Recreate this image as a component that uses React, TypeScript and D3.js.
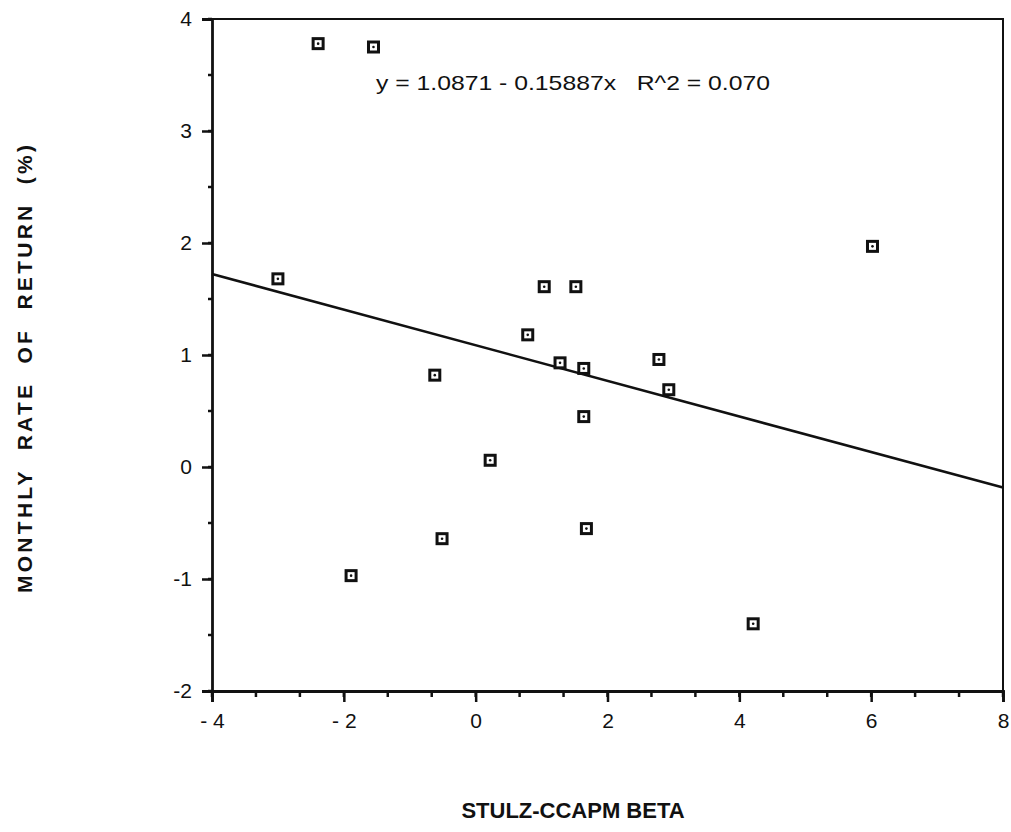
import { useRef, useEffect } from "react";
import * as d3 from "d3";

// Stulz-CCAPM beta vs monthly rate of return (%)
const betas = [
  -2.39, -1.55, -3.0, 1.04, 1.52, 6.02, 0.79, -0.62, 1.28, 1.64, 2.78, 2.93,
  1.64, 0.22, -0.51, 1.68, -1.89, 4.21,
];
const returns = [
  3.78, 3.75, 1.68, 1.61, 1.61, 1.97, 1.18, 0.82, 0.93, 0.88, 0.96, 0.69,
  0.45, 0.06, -0.64, -0.55, -0.97, -1.4,
];

const xTicks = [-4, -2, 0, 2, 4, 6, 8];
const xTickLabels = ["- 4", "- 2", "0", "2", "4", "6", "8"];
const yTicks = [-2, -1, 0, 1, 2, 3, 4];
const yTickLabels = ["-2", "-1", "0", "1", "2", "3", "4"];

const intercept = 1.0871;
const slope = -0.15887;
const equationLabel = "y = 1.0871 - 0.15887x   R^2 = 0.070";

const App = () => {
  const svgRef = useRef<SVGSVGElement | null>(null);

  useEffect(() => {
    const svg = d3.select(svgRef.current);
    svg.selectAll("*").remove();

    const width = 1011;
    const height = 832;
    const margin = { top: 19, right: 8, bottom: 141, left: 212 };
    const font = "'Liberation Sans', Arial, Helvetica, sans-serif";

    const x = d3
      .scaleLinear()
      .domain([-4, 8])
      .range([margin.left, width - margin.right]);
    const y = d3
      .scaleLinear()
      .domain([-2, 4])
      .range([height - margin.bottom, margin.top]);

    const data = betas.map((b, i) => ({ beta: b, ret: returns[i] }));

    // frame: top + right thinner, left + bottom heavier
    svg
      .append("path")
      .attr("d", `M${x(-4)},${y(4)}H${x(8)}V${y(-2)}`)
      .attr("fill", "none")
      .attr("stroke", "#111")
      .attr("stroke-width", 2);

    // minor ticks
    const xMinor = d3.range(0, 19).map((k) => -4 + (k * 2) / 3);
    svg
      .append("g")
      .selectAll("line")
      .data(xMinor)
      .join("line")
      .attr("x1", (d) => x(d))
      .attr("x2", (d) => x(d))
      .attr("y1", y(-2))
      .attr("y2", y(-2) + 6)
      .attr("stroke", "#111")
      .attr("stroke-width", 2.5);

    const yMinor = d3.range(-2, 4.01, 0.5);
    svg
      .append("g")
      .selectAll("line")
      .data(yMinor)
      .join("line")
      .attr("x1", x(-4))
      .attr("x2", x(-4) - 4)
      .attr("y1", (d) => y(d))
      .attr("y2", (d) => y(d))
      .attr("stroke", "#111")
      .attr("stroke-width", 2.5);

    // x axis
    const xAxis = svg
      .append("g")
      .attr("transform", `translate(0,${y(-2)})`)
      .call(
        d3
          .axisBottom(x)
          .tickValues(xTicks)
          .tickSize(11)
          .tickPadding(11)
          .tickFormat((d, i) => xTickLabels[i])
      );
    xAxis.select(".domain").attr("stroke", "#111").attr("stroke-width", 2.8);
    xAxis.selectAll(".tick line").attr("stroke", "#111").attr("stroke-width", 2.5);
    xAxis
      .selectAll(".tick text")
      .attr("fill", "#111")
      .style("font-family", font)
      .style("font-size", "21px");

    // y axis
    const yAxis = svg
      .append("g")
      .attr("transform", `translate(${x(-4)},0)`)
      .call(
        d3
          .axisLeft(y)
          .tickValues(yTicks)
          .tickSize(10)
          .tickPadding(10)
          .tickFormat((d, i) => yTickLabels[i])
      );
    yAxis.select(".domain").attr("stroke", "#111").attr("stroke-width", 2.8);
    yAxis.selectAll(".tick line").attr("stroke", "#111").attr("stroke-width", 2.5);
    yAxis
      .selectAll(".tick text")
      .attr("fill", "#111")
      .style("font-family", font)
      .style("font-size", "21px");

    // regression line
    svg
      .append("path")
      .datum([-4, 8])
      .attr("fill", "none")
      .attr("stroke", "#111")
      .attr("stroke-width", 2.6)
      .attr(
        "d",
        d3
          .line<number>()
          .x((d) => x(d))
          .y((d) => y(intercept + slope * d))
      );

    // markers: open square with a dot
    const pts = svg
      .append("g")
      .selectAll("g")
      .data(data)
      .join("g")
      .attr("transform", (d) => `translate(${x(d.beta)},${y(d.ret)})`);
    pts
      .append("rect")
      .attr("x", -5)
      .attr("y", -5)
      .attr("width", 10)
      .attr("height", 10)
      .attr("fill", "#fff")
      .attr("stroke", "#111")
      .attr("stroke-width", 3);
    pts.append("circle").attr("r", 1.3).attr("fill", "#111");

    // equation
    svg
      .append("text")
      .attr("x", 376)
      .attr("y", 90)
      .attr("fill", "#111")
      .attr("textLength", 394)
      .attr("lengthAdjust", "spacingAndGlyphs")
      .style("white-space", "pre")
      .style("font-family", font)
      .style("font-size", "21px")
      .text(equationLabel);

    // axis titles
    svg
      .append("text")
      .attr("x", 573)
      .attr("y", 818)
      .attr("text-anchor", "middle")
      .attr("fill", "#111")
      .style("font-family", font)
      .style("font-size", "22px")
      .style("font-weight", "bold")
      .text("STULZ-CCAPM BETA");

    svg
      .append("text")
      .attr("transform", `translate(32,${369}) rotate(-90)`)
      .attr("text-anchor", "middle")
      .attr("fill", "#111")
      .attr("textLength", 448)
      .attr("lengthAdjust", "spacing")
      .style("white-space", "pre")
      .style("font-family", font)
      .style("font-size", "21px")
      .style("font-weight", "bold")
      .text("MONTHLY  RATE  OF  RETURN  (%)");
  }, []);

  return (
    <svg
      ref={svgRef}
      width={1011}
      height={832}
      style={{ position: "absolute", left: 0, top: 0, background: "#fff" }}
    />
  );
};

export default App;
